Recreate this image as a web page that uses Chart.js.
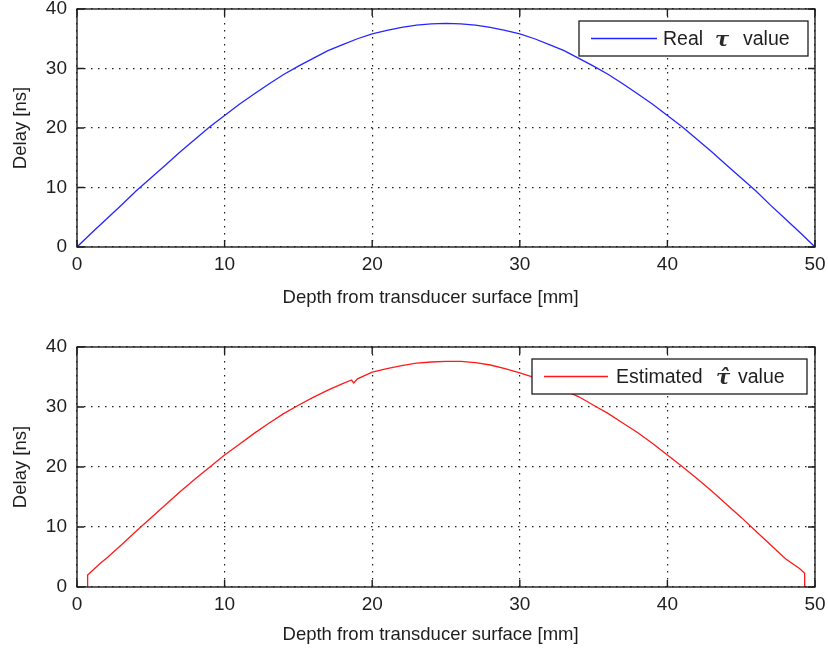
<!DOCTYPE html>
<html>
<head>
<meta charset="utf-8">
<title>Delay vs depth</title>
<script src="https://cdn.jsdelivr.net/npm/chart.js@4.4.1/dist/chart.umd.min.js"></script>
<style>
  body { margin: 0; background: #fff; }
  .panel { position: absolute; left: 0; width: 828px; }
</style>
</head>
<body>
<div class="panel" style="top:0;height:328px"><canvas id="realChart" width="828" height="328"></canvas></div>
<div class="panel" style="top:328px;height:329px"><canvas id="estChart" width="828" height="329"></canvas></div>
<script>
// values
const depthReal = [0, 1, 2, 3, 4, 5, 6, 7, 8, 9, 10, 11, 12, 13, 14, 15, 16, 17, 18, 19, 20, 21, 22, 23, 24, 25,
  26, 27, 28, 29, 30, 31, 32, 33, 34, 35, 36, 37, 38, 39, 40, 41, 42, 43, 44, 45, 46, 47, 48, 49, 50];
const delayReal = [0, 2.4, 4.7, 7.0, 9.4, 11.6, 13.8, 16.0, 18.1, 20.2, 22.1, 24.0, 25.7, 27.4, 29.0, 30.4, 31.7, 33.0, 34.0, 35.0, 35.8, 36.4, 36.9, 37.3, 37.5, 37.6,
  37.5, 37.3, 36.9, 36.4, 35.8, 35.0, 34.0, 33.0, 31.7, 30.4, 29.0, 27.4, 25.7, 24.0, 22.1, 20.2, 18.1, 16.0, 13.8, 11.6, 9.4, 7.0, 4.7, 2.4, 0];

const depthEst = [0.72, 0.72, 0.85, 1.6, 2, 3, 4, 5, 6, 7, 8, 9, 10, 11, 12, 13, 14, 15, 16, 17, 18, 18.6, 18.75, 19, 20, 21, 22, 23, 24, 25,
  26, 27, 28, 29, 30, 31, 32, 33, 34, 35, 36, 37, 38, 39, 40, 41, 42, 43, 44, 45, 46, 47, 48, 48.95, 49.3, 49.3];
const delayEst = [0, 2.0, 2.3, 4.0, 4.8, 7.0, 9.3, 11.5, 13.7, 15.9, 18.0, 20.0, 22.0, 23.8, 25.6, 27.3, 28.9, 30.3, 31.6, 32.8, 33.9, 34.5, 34.0, 34.7, 35.8, 36.4, 36.9, 37.3, 37.5, 37.6,
  37.6, 37.4, 37.0, 36.4, 35.7, 34.9, 33.9, 32.8, 31.7, 30.3, 28.9, 27.3, 25.7, 23.9, 22.0, 20.1, 18.1, 16.0, 13.8, 11.6, 9.3, 7.0, 4.7, 3.1, 2.3, 0];

const xTicks = [0, 10, 20, 30, 40, 50];
const yTicks = [0, 10, 20, 30, 40];

const ink = '#1e1e1e';

// axes box with inward ticks + boxed legend, drawn over the data
const frame = {
  id: 'frame',
  afterDraw(chart, args, opts) {
    const { ctx, chartArea: a, scales: { x, y } } = chart;
    ctx.save();
    ctx.strokeStyle = ink;
    ctx.lineWidth = 1.4;
    ctx.beginPath();
    x.ticks.forEach(t => {
      const px = x.getPixelForValue(t.value);
      ctx.moveTo(px, a.bottom); ctx.lineTo(px, a.bottom - 7);
      ctx.moveTo(px, a.top); ctx.lineTo(px, a.top + 7);
    });
    y.ticks.forEach(t => {
      const py = y.getPixelForValue(t.value);
      ctx.moveTo(a.left, py); ctx.lineTo(a.left + 7, py);
      ctx.moveTo(a.right, py); ctx.lineTo(a.right - 7, py);
    });
    ctx.stroke();
    ctx.strokeRect(a.left, a.top, a.right - a.left, a.bottom - a.top);

    const L = opts.legend;
    const bx = a.right - L.right - L.width, by = a.top + L.top, cy = by + L.height / 2;
    ctx.fillStyle = '#fff';
    ctx.fillRect(bx, by, L.width, L.height);
    ctx.lineWidth = 1.3;
    ctx.strokeRect(bx, by, L.width, L.height);
    ctx.strokeStyle = L.color;
    ctx.beginPath();
    ctx.moveTo(bx + 12, cy); ctx.lineTo(bx + 12 + L.lineLen, cy);
    ctx.stroke();
    ctx.fillStyle = ink;
    ctx.textBaseline = 'middle';
    ctx.font = '19.5px "Liberation Sans", Arial, sans-serif';
    ctx.fillText(L.before, bx + L.at[0], cy + 1);
    ctx.fillText('value', bx + L.at[2], cy + 1);
    ctx.font = 'italic bold 21px "DejaVu Serif", serif';
    ctx.fillStyle = '#2a2a2a';
    ctx.fillText(L.symbol, bx + L.at[1], cy + 2);
    ctx.restore();
  }
};

function makeChart(id, xs, ys, color, legend, padTop, axisHeight, titleGap) {
  const tickFont = { family: '"Liberation Sans", Arial, sans-serif', size: 19 };
  const titleFont = { family: '"Liberation Sans", Arial, sans-serif', size: 18.5 };
  return new Chart(document.getElementById(id), {
    type: 'line',
    data: {
      datasets: [{
        data: xs.map((v, i) => ({ x: v, y: ys[i] })),
        borderColor: color,
        borderWidth: 1.3,
        pointRadius: 0,
        tension: 0,
        fill: false
      }]
    },
    options: {
      responsive: false,
      animation: false,
      layout: { padding: { top: padTop, right: 13, left: 0, bottom: 0 } },
      plugins: {
        legend: { display: false },
        tooltip: { enabled: false },
        frame: { legend }
      },
      scales: {
        x: {
          type: 'linear', min: 0, max: 50,
          afterBuildTicks(s) { s.ticks = xTicks.map(v => ({ value: v })); },
          ticks: { font: tickFont, color: ink, padding: 6, maxRotation: 0 },
          grid: { color: ink, lineWidth: 1.2, drawTicks: false },
          border: { display: false, dash: [1.5, 5.5] },
          // trailing no-break spaces pull the title a little left of centre, as in the original
          title: { display: true, text: 'Depth from transducer surface [mm]\u00a0\u00a0\u00a0\u00a0\u00a0\u00a0', font: titleFont, color: ink, padding: { bottom: titleGap } },
          afterFit(s) { s.height = axisHeight; s.paddingLeft = 0; s.paddingRight = 0; }
        },
        y: {
          type: 'linear', min: 0, max: 40,
          afterBuildTicks(s) { s.ticks = yTicks.map(v => ({ value: v })); },
          ticks: { font: tickFont, color: ink, padding: 10 },
          grid: { color: ink, lineWidth: 1.2, drawTicks: false },
          border: { display: false, dash: [1.5, 5.5] },
          title: { display: true, text: 'Delay [ns]', font: titleFont, color: ink, padding: { top: 10 } },
          afterFit(s) { s.width = 77; s.paddingTop = 0; s.paddingBottom = 0; }
        }
      }
    },
    plugins: [frame]
  });
}

makeChart('realChart', depthReal, delayReal, '#2525ff',
  { before: 'Real', symbol: 'τ', color: '#2525ff', width: 229, height: 35, top: 12, right: 7, lineLen: 66, at: [84, 136, 164] },
  9, 81, 19);

makeChart('estChart', depthEst, delayEst, '#ff1a1a',
  { before: 'Estimated', symbol: 'τ\u0302', color: '#ff1a1a', width: 275, height: 35, top: 12, right: 8, lineLen: 64, at: [84, 184, 206] },
  19, 70, 11);
</script>
</body>
</html>
